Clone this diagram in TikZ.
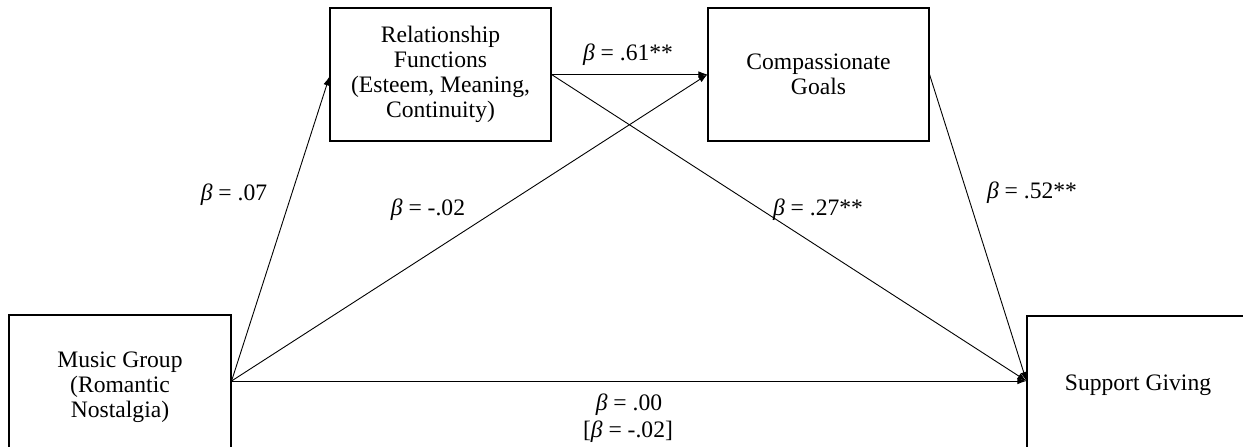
\documentclass[tikz,border=0pt]{standalone}
\usepackage{fontspec}
\setmainfont{Liberation Serif}
\usetikzlibrary{arrows.meta}
\tikzset{
  box/.style={draw, line width=1.1pt, align=center, inner sep=0pt,
    font=\fontsize{23.6}{25}\selectfont},
  lbl/.style={inner sep=0pt, font=\fontsize{23.6}{25}\selectfont},
  path/.style={line width=0.9pt, -{Latex[length=9pt,width=6.5pt]}},
  plain/.style={line width=0.9pt}
}
\begin{document}
\begin{tikzpicture}[x=1pt,y=-1pt]
\useasboundingbox (0,0) rectangle (1243,447);
\clip (0,0) rectangle (1243,447);
\fill[white] (0,0) rectangle (1243,447);
\node[box, minimum width=222pt, minimum height=144pt] (mg) at (120,387) {Music Group\\(Romantic\\Nostalgia)};
\node[box, minimum width=221pt, minimum height=133pt] (rf) at (440.5,74.5) {Relationship\\Functions\\(Esteem, Meaning,\\Continuity)};
\node[box, minimum width=221pt, minimum height=133pt] (cg) at (818.5,74.5) {Compassionate\\Goals};
\node[box, minimum width=222pt, minimum height=138pt] (sg) at (1138,385) {Support Giving};
\coordinate (mgout) at ([yshift=6pt]mg.east);
\coordinate (sgin) at ([yshift=4pt]sg.west);
\draw[path] (mgout) -- ([yshift=-2pt]rf.west);
\draw[path] (mgout) -- (cg.west);
\draw[path] (rf.east) -- (cg.west);
\draw[path] (rf.east) -- (sgin);
\draw[path] (cg.east) -- (sgin);
\draw[path] (mgout) -- (sgin);
\node[lbl] (l1) at (234,195) {\textit{β} = .07};
\node[lbl] (l2) at (428,210) {\textit{β} = -.02};
\node[lbl] (l3) at (628,55) {\textit{β} = .61**};
\node[lbl] (l4) at (818,210) {\textit{β} = .27**};
\node[lbl] (l5) at (1032,193) {\textit{β} = .52**};
\node[lbl] (l6) at (629,405) {\textit{β} = .00};
\node[lbl] (l7) at (628,432) {[\textit{β} = -.02]};
\end{tikzpicture}
\end{document}
